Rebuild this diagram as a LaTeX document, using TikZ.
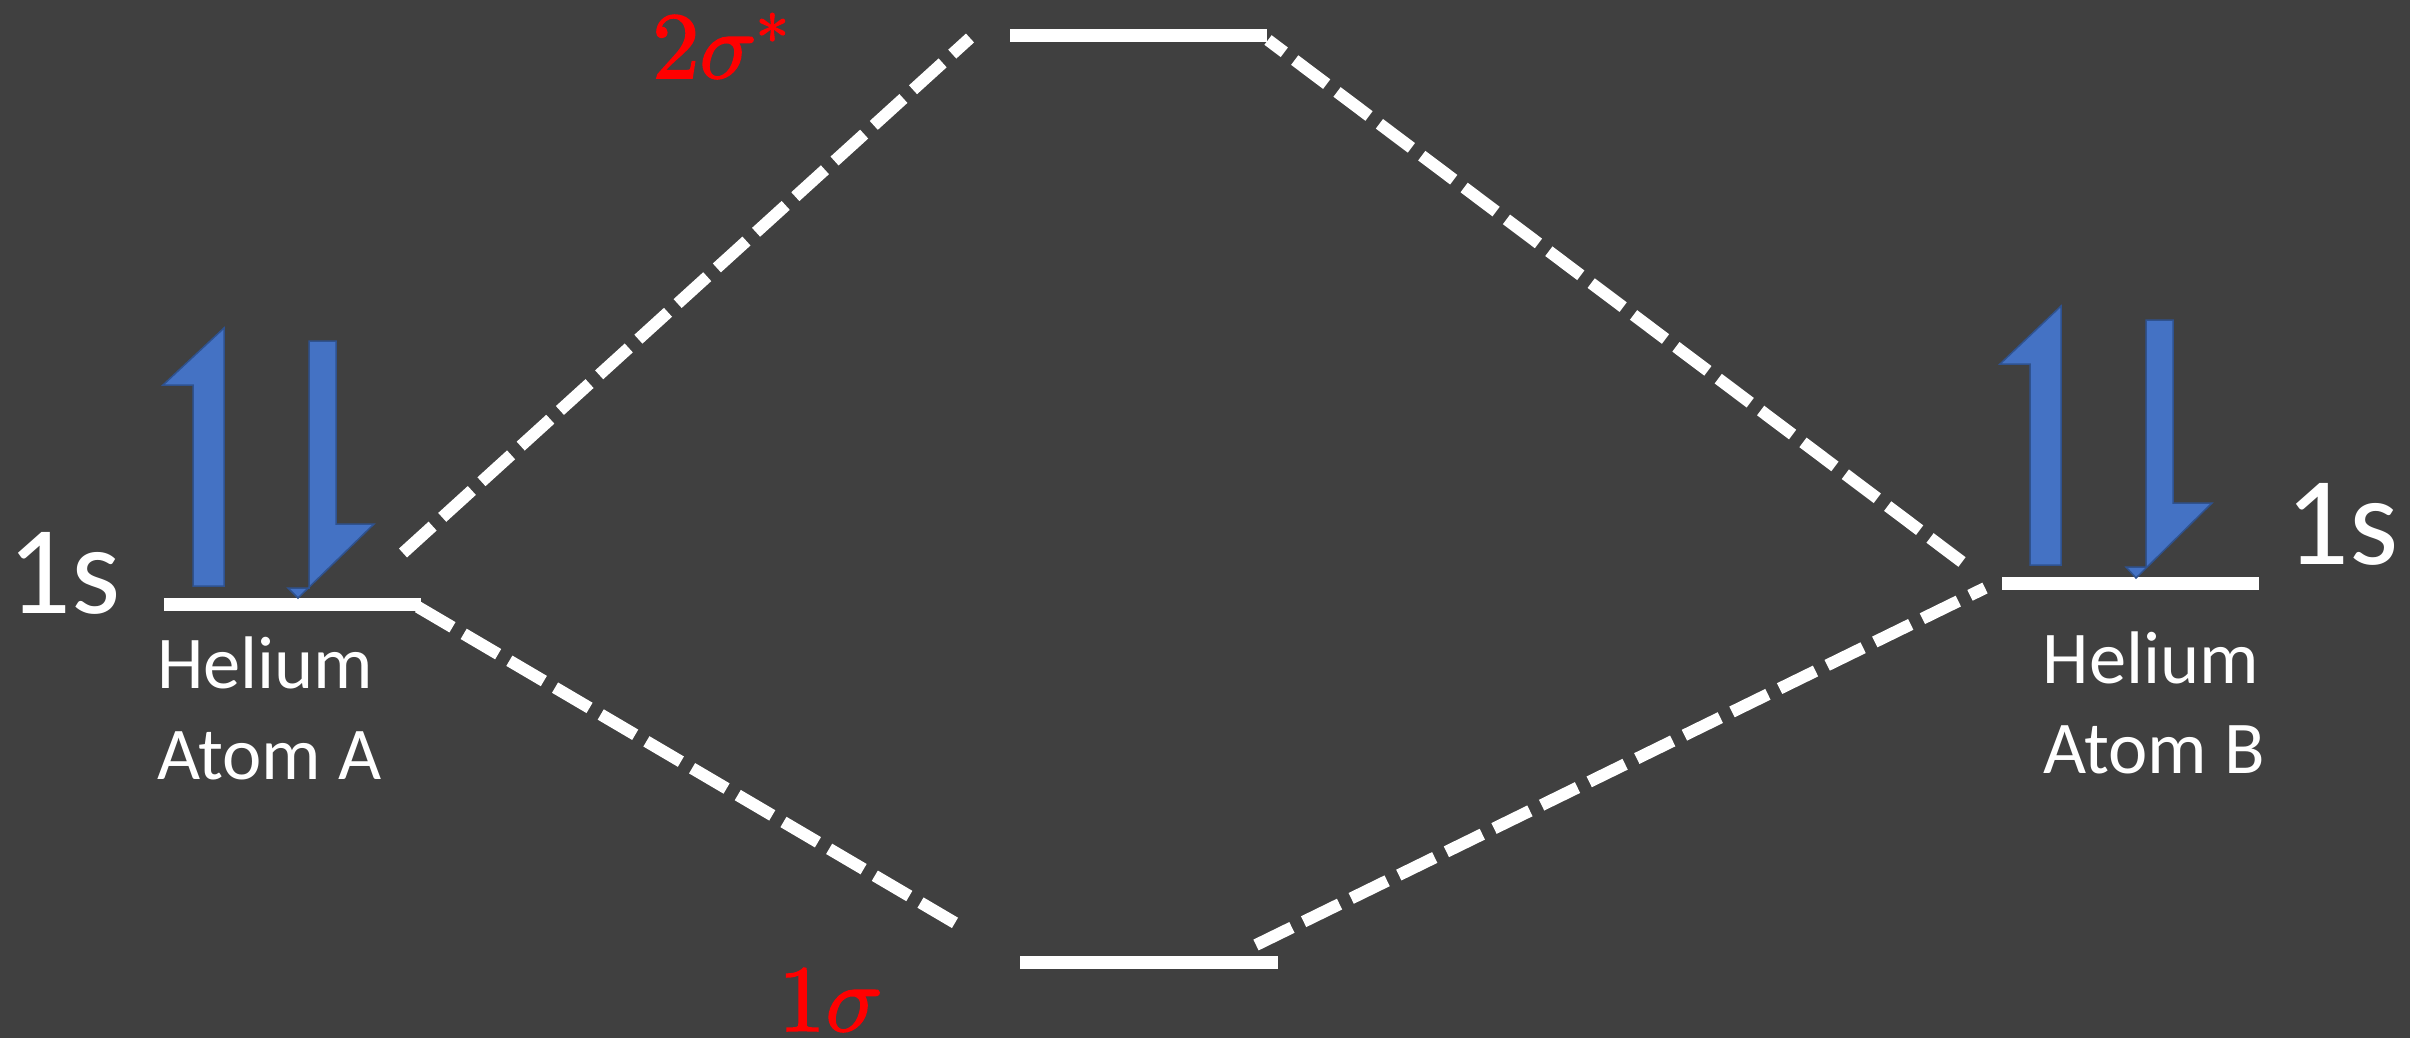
\documentclass[tikz,border=0pt]{standalone}
\usepackage{fontspec}
\usepackage{unicode-math}
\setmainfont{Carlito}
\setmathfont{Latin Modern Math}[FakeBold=1.6]
\definecolor{bg}{HTML}{404040}
\definecolor{eblue}{HTML}{4472C4}
\definecolor{eborder}{HTML}{2F528F}
\definecolor{mored}{HTML}{FF0000}
\begin{document}
\begin{tikzpicture}[x=1pt,y=-1pt,
  level/.style={draw=white,line width=13pt},
  conn/.style={draw=white,line width=12pt,dash pattern=on 40pt off 13pt},
  spin/.style={fill=eblue,draw=eborder,line width=1.5pt,line join=miter},
  orb/.style={inner sep=0pt,text=white,font=\fontsize{126}{150}\selectfont},
  atom/.style={inner sep=0pt,text=white,font=\fontsize{74.5}{91}\selectfont},
  mo/.style={inner sep=0pt,text=mored,font=\fontsize{94.6}{110}\selectfont}]
\fill[bg] (0,0) rectangle (2410,1038);
\useasboundingbox (0,0) rectangle (2410,1038);
% level end points
\coordinate (aL) at (164,604);  \coordinate (aR) at (421,604);
\coordinate (bL) at (2002,583); \coordinate (bR) at (2259,583);
\coordinate (tL) at (1010,36);  \coordinate (tR) at (1267,36);
\coordinate (mL) at (1020,962); \coordinate (mR) at (1278,962);
% connector end points
\coordinate (ul1) at (403,553);  \coordinate (ul2) at (970,38);
\coordinate (ll1) at (418,607);  \coordinate (ll2) at (962,927);
\coordinate (ur1) at (1962,562); \coordinate (ur2) at (1268,40);
\coordinate (lr1) at (1256,945); \coordinate (lr2) at (1985,588);
% levels
\draw[level] (aL) -- (aR);
\draw[level] (bL) -- (bR);
\draw[level] (tL) -- (tR);
\draw[level] (mL) -- (mR);
% connectors
\draw[conn] (ul1) -- (ul2);
\draw[conn] (ll1) -- (ll2);
\draw[conn] (ur1) -- (ur2);
\draw[conn] (lr1) -- (lr2);
% electrons atom A
\path[spin] (224,328) -- (163,385) -- (193,385) -- (193,586) -- (224,586) -- cycle;
\path[spin] (309,341) -- (336,341) -- (336,524) -- (374,524) -- (298,598) -- (288,588) -- (309,588) -- cycle;
% electrons atom B
\path[spin] (2061,306) -- (2000,364) -- (2030,364) -- (2030,565) -- (2061,565) -- cycle;
\path[spin] (2146,320) -- (2173,320) -- (2173,503) -- (2212,503) -- (2136,578) -- (2126,567) -- (2146,567) -- cycle;
% labels
\node[orb,anchor=base west] (sA) at (7,613) {1s};
\node[orb,anchor=base west] (sB) at (2285,564) {1s};
\node[atom,anchor=base west] (hA) at (157,688) {Helium};
\node[atom,anchor=base west] (tA) at (157,779) {Atom A};
\node[atom,anchor=base] (hB) at (2151,683) {Helium};
\node[atom,anchor=base] (tB) at (2154,773) {Atom B};
\node[mo,anchor=base west] (sg2) at (652,78) {$2\sigma^{*}$};
\node[mo,anchor=base west] (sg1) at (778,1031) {$1\sigma$};
\end{tikzpicture}
\end{document}
